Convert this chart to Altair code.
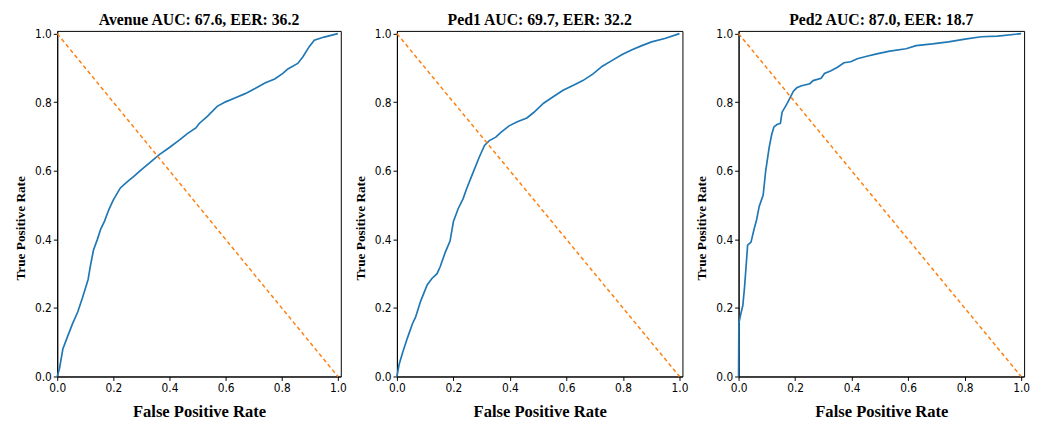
import altair as alt
import pandas as pd

# ---- data ----
avenue_fpr = [0.0, 0.008, 0.02, 0.037, 0.055, 0.073, 0.09, 0.11, 0.119, 0.129, 0.143, 0.155, 0.169,
              0.184, 0.20, 0.225, 0.248, 0.272, 0.295, 0.33, 0.365, 0.40, 0.436, 0.465, 0.494, 0.506,
              0.535, 0.57, 0.60, 0.635, 0.67, 0.705, 0.74, 0.775, 0.804, 0.822, 0.857, 0.875, 0.898,
              0.916, 0.951, 1.0]
avenue_tpr = [0.0, 0.023, 0.08, 0.117, 0.155, 0.188, 0.23, 0.283, 0.326, 0.368, 0.40, 0.43, 0.454,
              0.487, 0.515, 0.55, 0.567, 0.583, 0.60, 0.624, 0.648, 0.668, 0.69, 0.709, 0.725, 0.738,
              0.759, 0.788, 0.801, 0.813, 0.825, 0.84, 0.856, 0.868, 0.884, 0.897, 0.913, 0.932, 0.962,
              0.981, 0.99, 1.0]

ped1_fpr = [0.0, 0.008, 0.02, 0.037, 0.055, 0.066, 0.084, 0.107, 0.124, 0.142, 0.153, 0.171, 0.188,
            0.20, 0.217, 0.234, 0.246, 0.269, 0.292, 0.31, 0.327, 0.35, 0.368, 0.397, 0.426, 0.46,
            0.484, 0.519, 0.553, 0.588, 0.623, 0.658, 0.693, 0.727, 0.762, 0.797, 0.832, 0.867, 0.901,
            0.948, 1.0]
ped1_tpr = [0.0, 0.036, 0.069, 0.112, 0.154, 0.173, 0.22, 0.267, 0.286, 0.30, 0.32, 0.362, 0.395,
            0.452, 0.49, 0.518, 0.546, 0.594, 0.641, 0.674, 0.688, 0.698, 0.712, 0.731, 0.743, 0.754,
            0.77, 0.797, 0.816, 0.835, 0.849, 0.863, 0.882, 0.905, 0.922, 0.939, 0.953, 0.965, 0.976,
            0.986, 1.0]

ped2_fpr = [0.0, 0.001, 0.007, 0.015, 0.021, 0.027, 0.032, 0.044, 0.055, 0.064, 0.073, 0.087, 0.096,
            0.108, 0.117, 0.125, 0.136, 0.148, 0.154, 0.171, 0.183, 0.194, 0.206, 0.223, 0.252, 0.264,
            0.292, 0.304, 0.327, 0.35, 0.373, 0.397, 0.42, 0.454, 0.489, 0.535, 0.593, 0.628, 0.686,
            0.743, 0.801, 0.859, 0.917, 1.0]
ped2_tpr = [0.0, 0.155, 0.179, 0.207, 0.259, 0.326, 0.383, 0.392, 0.43, 0.458, 0.496, 0.529, 0.60,
            0.667, 0.705, 0.728, 0.735, 0.738, 0.771, 0.795, 0.814, 0.832, 0.842, 0.848, 0.854, 0.863,
            0.87, 0.884, 0.892, 0.902, 0.915, 0.918, 0.927, 0.934, 0.941, 0.949, 0.956, 0.965, 0.97,
            0.976, 0.984, 0.991, 0.993, 1.0]

titles = ["Avenue AUC: 67.6, EER: 36.2", "Ped1 AUC: 69.7, EER: 32.2", "Ped2 AUC: 87.0, EER: 18.7"]
diag_x = [0.0, 1.0]
diag_y = [1.0, 0.0]
tick_values = [0.0, 0.2, 0.4, 0.6, 0.8, 1.0]

TICK_FONT = "Liberation Sans Narrow, DejaVu Sans Condensed, Roboto Condensed, DejaVu Sans"
SERIF = "Liberation Serif"


def panel(title, fpr, tpr, w, h):
    df = pd.DataFrame({"fpr": fpr, "tpr": tpr, "order": list(range(len(fpr)))})
    diag = pd.DataFrame({"fpr": diag_x, "tpr": diag_y})
    xs = alt.Scale(domain=[0, 1.0105], nice=False, zero=False)
    ys = alt.Scale(domain=[0, 1.008], nice=False, zero=False)
    xaxis = alt.Axis(values=tick_values, format=".1f", title="False Positive Rate", grid=False)
    yaxis = alt.Axis(values=tick_values, format=".1f", title="True Positive Rate", grid=False,
                     titleY=200)
    curve = alt.Chart(df).mark_line(color="#1f77b4", strokeWidth=1.7).encode(
        x=alt.X("fpr:Q", scale=xs, axis=xaxis),
        y=alt.Y("tpr:Q", scale=ys, axis=yaxis),
        order="order:Q",
    )
    dline = alt.Chart(diag).mark_line(color="#ff7f0e", strokeDash=[4, 3], strokeWidth=1.5).encode(
        x=alt.X("fpr:Q", scale=xs),
        y=alt.Y("tpr:Q", scale=ys),
    )
    return alt.layer(curve, dline).properties(
        width=w, height=h,
        title=alt.TitleParams(title, font=SERIF, fontSize=16, fontWeight="bold", color="black",
                              offset=0, anchor="middle"),
    )


p1 = panel(titles[0], avenue_fpr, avenue_tpr, 288, 351)
p2 = panel(titles[1], ped1_fpr, ped1_tpr, 290, 351)
p3 = panel(titles[2], ped2_fpr, ped2_tpr, 290, 351)

chart = alt.hconcat(p1, p2, p3, spacing=57, bounds="flush").properties(
    padding={"left": 5, "top": 0, "right": 0, "bottom": 0}
).configure_view(
    stroke="black", strokeWidth=1
).configure_axis(
    domainColor="black", tickColor="black", tickSize=4, labelFont=TICK_FONT, labelFontSize=12,
    labelColor="black", labelPadding=2, labelFlush=False, labelOverlap=False,
    titleFont=SERIF, titleFontSize=16.8, titleFontWeight="bold", titleColor="black",
).configure_axisX(
    titlePadding=11,
).configure_axisY(
    titlePadding=7, titleFontSize=13.5,
)

chart.save("out.html", embed_options={"renderer": "svg", "actions": False})
